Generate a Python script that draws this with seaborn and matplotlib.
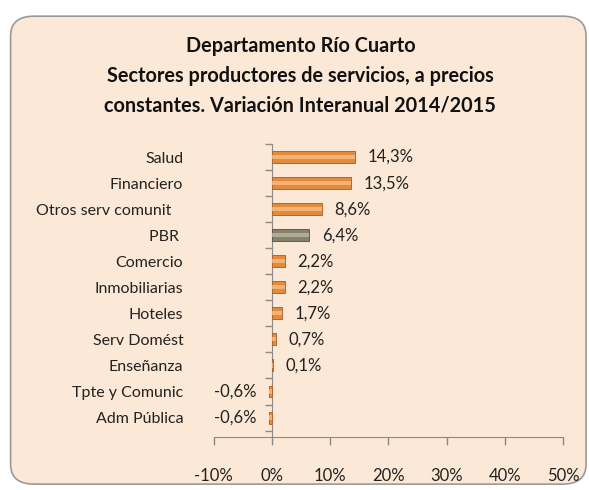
import matplotlib
matplotlib.use('Agg')
import matplotlib.pyplot as plt
import seaborn as sns
import pandas as pd
from matplotlib.patches import FancyBboxPatch
from matplotlib.ticker import FuncFormatter

# Data
sectores = ['Salud', 'Financiero', 'Otros serv comunit   ', 'PBR ', 'Comercio',
            'Inmobiliarias', 'Hoteles', 'Serv Domést', 'Enseñanza',
            'Tpte y Comunic', 'Adm Pública']
variacion = [14.3, 13.5, 8.6, 6.4, 2.2, 2.2, 1.7, 0.7, 0.1, -0.6, -0.6]
colores = ['#E48A3C'] * 3 + ['#858269'] + ['#E48A3C'] * 7
brillo = ['#F7BD85'] * 3 + ['#B9B6A2'] + ['#F7BD85'] * 7

df = pd.DataFrame({'sector': sectores, 'var': variacion})

sns.set_style('white')
plt.rcParams['font.family'] = ['Lato', 'DejaVu Sans']

fig = plt.figure(figsize=(5.89, 4.90), dpi=100)

# rounded panel background on its own axes behind everything
bg = fig.add_axes([0, 0, 1, 1], zorder=-1)
bg.axis('off')
panel = FancyBboxPatch((0.018, 0.012), 0.977, 0.955, transform=bg.transAxes,
                       boxstyle='round,pad=0,rounding_size=0.04',
                       facecolor='#FCE8D6', edgecolor='#9A9A9A', lw=1.2)
bg.add_patch(panel)

ax = fig.add_axes([0.363, 0.108, 0.593, 0.598], zorder=1)
ax.patch.set_alpha(0)

sns.barplot(data=df, x='var', y='sector', hue='sector', palette=colores,
            saturation=1, legend=False, width=0.46, edgecolor='#B4662A',
            linewidth=0.7, ax=ax)
ax.patches[3].set_edgecolor('#5F5D4A')
labels_cont = list(ax.containers)

# lighter stripe for the cylinder look
sns.barplot(data=df, x='var', y='sector', hue='sector', palette=brillo,
            saturation=1, legend=False, width=0.16, linewidth=0, alpha=0.8, ax=ax)

for cont in labels_cont:
    ax.bar_label(cont, labels=[f'{v:.1f}%'.replace('.', ',') for v in cont.datavalues],
                 padding=9, fontsize=12, color='#222222')

ax.set_xlim(-10, 50)
ax.set_ylim(10.75, -0.5)
ax.set_xticks([-10, 0, 10, 20, 30, 40, 50])
ax.xaxis.set_major_formatter(FuncFormatter(lambda v, p: f'{v:.0f}%'))
ax.set_xlabel('')
ax.set_ylabel('')

for s in ['top', 'right', 'left']:
    ax.spines[s].set_visible(False)
ax.spines['bottom'].set_color('#8A8A8A')
ax.tick_params(axis='x', bottom=True, direction='out', length=6, width=1,
               color='#8A8A8A', pad=16, labelsize=12, labelcolor='#222222')
ax.tick_params(axis='y', left=False, length=0, pad=22, labelsize=11.5,
               labelcolor='#222222')

# vertical axis at zero with category boundary ticks
sec = ax.secondary_yaxis(1 / 6)
sec.set_yticks([i - 0.5 for i in range(12)])
sec.set_yticklabels([])
sec.spines['left'].set_color('#8A8A8A')
sec.tick_params(axis='y', left=True, direction='out', length=5, width=1,
                color='#8A8A8A')

fig.text(0.51, 0.845, 'Departamento Río Cuarto\nSectores productores de servicios, a precios\nconstantes. Variación Interanual 2014/2015',
         ha='center', va='center', fontsize=14.3, fontweight='bold',
         linespacing=1.6, color='#111111')

fig.savefig('out.png', dpi=100, facecolor='white')
